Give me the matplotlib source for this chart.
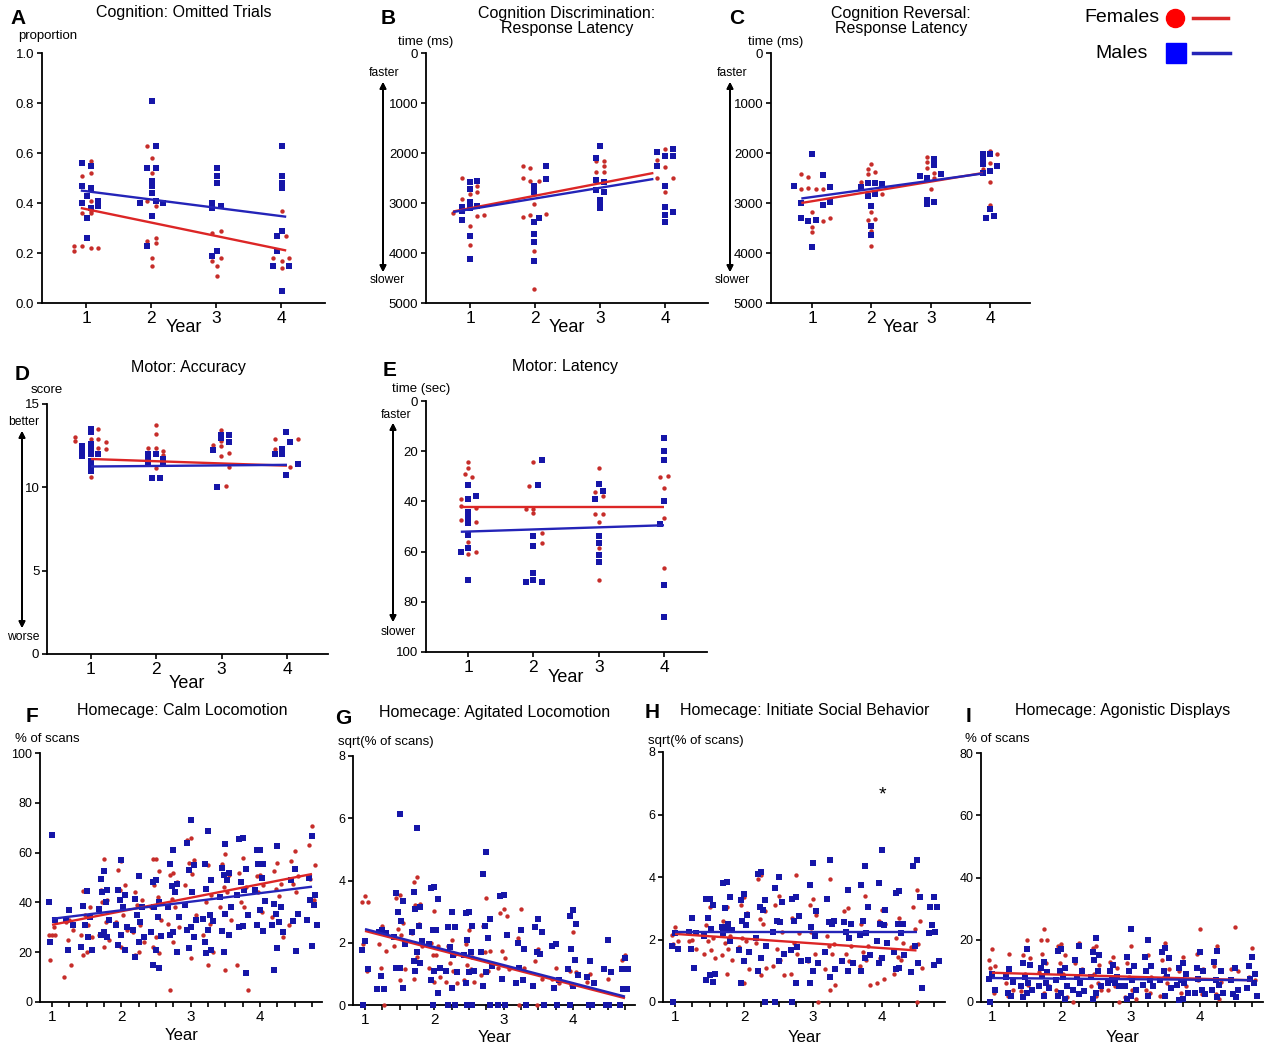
import matplotlib
matplotlib.use('Agg')
import matplotlib.pyplot as plt
from matplotlib.lines import Line2D

plt.rcParams['font.family'] = ['Liberation Sans', 'DejaVu Sans']

W, H = 1272, 1048

RED_PT = '#c62d2a'
BLUE_PT = '#1616a8'
RED_LN = '#dc2626'
BLUE_LN = '#2424b8'

# ---------------- data ----------------
# A: omitted trials (proportion)
a_f_x = [0.82, 0.82, 0.94, 0.94, 0.94, 1.07, 1.07, 1.07, 1.07, 1.07, 1.18, 1.07,
         1.94, 2.01, 2.01, 1.94, 2.07, 1.94, 2.07, 2.07, 2.01, 2.01,
         2.94, 3.07, 2.94, 3.07, 3.01, 3.01,
         4.01, 4.07, 3.88, 4.13, 4.01, 4.01]
a_f_y = [0.23, 0.21, 0.51, 0.36, 0.23, 0.57, 0.52, 0.41, 0.36, 0.22, 0.22, 0.37,
         0.63, 0.58, 0.52, 0.41, 0.39, 0.25, 0.26, 0.24, 0.18, 0.15,
         0.28, 0.29, 0.17, 0.18, 0.15, 0.11,
         0.37, 0.27, 0.18, 0.18, 0.17, 0.14]
a_m_x = [0.94, 0.94, 0.94, 1.01, 1.01, 1.01, 1.07, 1.07, 1.07, 1.18, 1.18,
         2.01, 1.94, 2.01, 2.01, 2.01, 2.01, 2.07, 2.07, 1.94, 1.83, 2.18, 2.07,
         3.01, 3.01, 3.01, 2.94, 2.94, 3.07, 3.01, 2.94,
         4.01, 4.01, 4.01, 4.01, 4.01, 3.94, 3.94, 3.88, 4.13, 4.01]
a_m_y = [0.56, 0.47, 0.40, 0.43, 0.34, 0.26, 0.55, 0.46, 0.38, 0.41, 0.39,
         0.81, 0.54, 0.49, 0.47, 0.44, 0.35, 0.63, 0.54, 0.23, 0.40, 0.40, 0.41,
         0.54, 0.51, 0.48, 0.40, 0.38, 0.39, 0.21, 0.19,
         0.63, 0.51, 0.48, 0.46, 0.29, 0.27, 0.21, 0.15, 0.15, 0.05]
a_fit_x = [0.92, 4.08]
a_fit_f = [0.38, 0.21]
a_fit_m = [0.45, 0.345]

# B: discrimination response latency (ms)
b_f_x = [0.87, 0.87, 1.0, 1.0, 1.0, 1.1, 1.1, 1.1, 1.22, 0.74,
         1.81, 1.92, 1.81, 1.92, 2.06, 1.985, 1.81, 1.92, 2.17, 1.985, 1.985,
         2.94, 3.06, 2.94, 3.06, 3.06, 3.0, 3.0,
         3.87, 3.87, 4.0, 4.0, 4.0, 4.12]
b_f_y = [2490, 2920, 2810, 3460, 3830, 2660, 2780, 3260, 3240, 3190,
         2250, 2290, 2500, 2550, 2550, 3020, 3270, 3230, 3210, 3950, 4720,
         2150, 2150, 2370, 2370, 2250, 2920, 2990,
         2130, 2490, 1920, 2270, 2780, 2500]
b_m_x = [1.0, 1.0, 1.0, 1.0, 1.0, 1.0, 0.87, 0.87, 0.87, 1.1, 1.1,
         1.985, 1.985, 1.985, 1.985, 1.985, 1.985, 2.06, 2.17, 2.17,
         3.0, 2.94, 2.94, 2.94, 3.0, 3.0, 3.0, 3.06, 3.06,
         3.87, 3.87, 4.0, 4.12, 4.12, 4.0, 4.0, 4.0, 4.0, 4.12]
b_m_y = [2570, 2720, 2970, 3100, 3650, 4120, 3070, 3150, 3330, 2550, 3050,
         2650, 2770, 3370, 3620, 3780, 4150, 3290, 2250, 2520,
         1850, 2100, 2530, 2730, 2930, 3020, 3100, 2570, 2770,
         1980, 2250, 2050, 1910, 2050, 2650, 3070, 3230, 3370, 3180]
b_fit_x = [0.74, 3.82]
b_fit_f = [3170, 2400]
b_fit_m = [3180, 2520]

# C: reversal response latency (ms)
c_f_x = [0.82, 0.82, 0.94, 0.94, 1.0, 1.0, 1.0, 1.07, 1.18, 1.18, 1.31,
         1.83, 1.94, 1.94, 2.0, 2.06, 1.94, 2.06, 2.0, 2.0, 2.0, 2.18,
         2.94, 2.94, 2.94, 3.06, 3.06, 3.0,
         4.0, 4.12, 4.0, 3.88, 4.0, 4.0]
c_f_y = [2410, 2710, 2470, 2700, 3170, 3470, 3580, 2710, 2710, 3350, 3290,
         2570, 2320, 2410, 2220, 2370, 3330, 3310, 3180, 3550, 3850, 2820,
         2070, 2180, 2290, 2400, 2500, 2710,
         1950, 2010, 2190, 2310, 2570, 3030]
c_m_x = [0.69, 0.82, 0.82, 0.94, 1.0, 1.0, 1.07, 1.18, 1.18, 1.31, 1.31,
         1.83, 1.94, 1.94, 2.06, 2.06, 2.18, 2.0, 2.0, 2.0,
         2.82, 2.94, 3.06, 3.06, 3.18, 2.94, 2.94, 3.06,
         3.88, 3.88, 3.88, 3.88, 4.0, 4.0, 4.12, 4.0, 3.94, 4.06]
c_m_y = [2650, 3000, 3300, 3350, 2010, 3870, 3330, 2430, 3030, 2670, 2970,
         2670, 2600, 2850, 2590, 2820, 2620, 3050, 3450, 3630,
         2450, 2490, 2120, 2230, 2420, 2930, 3020, 2980,
         2010, 2120, 2220, 2390, 2010, 2350, 2250, 3110, 3290, 3250]
c_fit_x = [0.82, 3.88]
c_fit_f = [3000, 2400]
c_fit_m = [2910, 2410]

# D: motor accuracy (score)
d_f_x = [0.76, 0.76, 1.0, 1.0, 1.0, 1.11, 1.11, 1.11, 1.23, 1.23,
         2.0, 2.0, 2.0, 1.87, 2.11, 2.11, 2.0,
         2.87, 2.99, 2.99, 2.99, 2.99, 3.11, 3.11, 3.06,
         3.81, 3.81, 4.17, 4.05]
d_f_y = [13.0, 12.75, 12.9, 12.6, 10.6, 13.5, 12.9, 12.35, 12.7, 12.3,
         13.75, 13.2, 12.35, 12.35, 12.2, 11.95, 11.15,
         12.55, 13.45, 12.75, 12.45, 11.9, 12.05, 11.2, 10.1,
         12.9, 12.3, 12.9, 11.2]
d_m_x = [0.87, 0.87, 0.87, 0.87, 0.87, 1.0, 1.0, 1.0, 1.0, 1.0, 1.0, 1.0, 1.0, 1.0, 1.11,
         2.0, 1.87, 1.87, 1.87, 2.11, 2.11, 1.94, 2.05,
         2.87, 2.99, 2.99, 3.11, 3.11, 2.93,
         3.81, 3.92, 3.92, 3.99, 4.05, 3.99, 4.17]
d_m_y = [11.9, 12.05, 12.2, 12.35, 12.5, 13.5, 13.3, 12.6, 12.4, 12.2, 12.0, 11.6, 11.2, 11.0, 12.0,
         12.0, 12.0, 11.7, 11.4, 11.7, 11.4, 10.55, 10.55,
         12.25, 13.15, 12.95, 13.15, 12.7, 10.0,
         12.0, 12.3, 12.0, 13.3, 12.7, 10.75, 11.4]
d_fit_x = [1.0, 4.0]
d_fit_f = [11.7, 11.3]
d_fit_m = [11.25, 11.35]

# E: motor latency (sec)
e_f_x = [0.89, 0.89, 0.89, 0.95, 1.0, 1.0, 1.06, 1.0, 1.0, 1.12, 1.12, 1.12,
         2.0, 1.94, 1.88, 2.0, 2.0, 2.13, 2.13,
         3.0, 2.94, 3.06, 2.94, 3.06, 3.0, 3.0, 3.0,
         3.94, 4.06, 4.0, 4.0, 4.0]
e_f_y = [39.1, 41.9, 47.5, 28.9, 24.5, 26.6, 30.2, 56.1, 60.8, 42.8, 48.4, 60.1,
         24.2, 33.8, 43.1, 43.1, 44.8, 52.4, 56.4,
         26.6, 36.4, 37.8, 45.1, 45.1, 48.4, 58.5, 71.4,
         30.2, 29.8, 34.8, 46.8, 66.5]
e_m_x = [0.89, 1.0, 1.0, 1.0, 1.0, 1.0, 1.0, 1.0, 1.0, 1.12,
         2.07, 2.13, 2.0, 2.0, 2.0, 2.0, 1.88, 2.13,
         3.0, 3.06, 2.94, 3.0, 3.0, 3.0, 3.0,
         4.0, 4.0, 4.0, 4.0, 3.94, 4.0, 4.0]
e_m_y = [60.1, 33.5, 39.1, 44.1, 46.1, 48.8, 53.2, 58.5, 71.4, 37.9,
         33.5, 23.5, 53.9, 57.8, 68.5, 71.4, 72.1, 72.1,
         33.1, 35.9, 39.1, 53.9, 56.5, 61.2, 64.1,
         14.6, 19.8, 23.5, 39.8, 49.1, 73.4, 86.0]
e_fit_x = [0.89, 4.0]
e_fit_f = [42.2, 42.2]
e_fit_m = [52.1, 49.5]

# homecage panels: one list of values per observation period
hc_years = [1.0, 1.25, 1.5, 1.75, 2.0, 2.25, 2.5, 2.75,
            3.0, 3.25, 3.5, 3.75, 4.0, 4.25, 4.5, 4.75]

f_f = [[27, 27, 27, 17, 30], [33, 32, 29, 25, 15, 10],
       [44.5, 44.5, 38, 35, 31, 27, 26, 20, 19], [57.5, 45, 41, 40, 32, 27, 25, 22],
       [56.5, 53, 47, 45, 35, 32, 29, 22], [51, 44, 41, 39, 31, 28, 24, 20, 19],
       [57.5, 57.5, 52.5, 47, 42, 38, 33, 26, 22, 19.5], [52, 51, 48, 41.5, 38, 31.5, 30, 24, 5],
       [66, 65, 57, 56, 51.5, 47, 35, 17.5], [55, 45.5, 43, 40, 31.5, 27, 20, 15],
       [59.5, 55.5, 51, 46, 44, 38, 33, 13], [58, 52, 46, 40, 38, 15, 5],
       [51, 50.5, 47, 44, 36], [56, 52.5, 47.5, 45.5, 42.5, 34, 26],
       [60.5, 56.5, 50.5, 47.5, 44, 31], [70.5, 63, 55, 49.5, 41, 33.5]]
f_m = [[67, 40, 33, 24], [37, 33, 31, 21],
       [44.5, 38.5, 34, 31, 26, 22, 21], [52.5, 49.5, 45, 44, 40, 37.5, 33, 28, 27, 26],
       [57, 45, 43, 41, 38, 31, 30, 27, 23, 21], [50.5, 41.5, 38, 35, 32, 29, 26, 24, 18],
       [49, 48, 40, 38, 34, 28, 26.5, 21, 15, 13.5], [61, 55.5, 47.5, 46.5, 44, 38, 34, 28, 27, 20],
       [73, 64, 55, 53, 44, 39, 33, 30, 29, 26, 21.5],
       [68.5, 55.5, 49, 45.5, 35, 33.5, 32.5, 29, 24, 21, 19.5],
       [63.5, 54, 52, 51, 49, 42, 38, 35.5, 28.5, 27, 20],
       [66, 65.5, 53.5, 48, 45, 43, 35, 30.5, 30, 11.5],
       [61, 61, 55.5, 55.5, 50, 45, 40.5, 37, 31, 28.5],
       [62.5, 39.5, 38, 35.5, 32, 31, 28, 21.5, 13],
       [53.5, 49, 35.5, 32.5, 20.5], [66.5, 50, 43, 41, 39, 33, 31, 22.5]]
f_fit_x = [1.0, 4.75]
f_fit_f = [31.0, 51.4]
f_fit_m = [33.4, 46.3]

g_f = [[3.5, 3.3, 3.3, 1.97, 1.1], [2.55, 1.97, 1.75, 1.2, 0],
       [3.55, 3.45, 2.65, 2.45, 2.25, 1.9, 1.15, 0.8], [4.1, 3.95, 3.25, 3.2, 2.6, 2.3, 1.9, 1.55, 0.85],
       [3.02, 2.0, 1.9, 1.6, 1.6, 1.2, 0.9, 0.75], [2.1, 1.9, 1.65, 1.35, 1.1, 0.75, 0.7],
       [2.4, 1.95, 1.55, 1.3, 1.15, 0.8, 0.75], [3.45, 2.55, 1.75, 1.7, 1.1, 0.95],
       [3.1, 2.95, 2.85, 1.75, 1.5, 1.2, 1.15], [3.1, 2.15, 1.2, 0],
       [1.8, 1.4, 0.85, 0], [1.2, 0.85, 0.7],
       [2.35, 1.1, 1.05, 0.65], [1.0, 0.75],
       [0.85], [1.6, 1.45, 1.2, 1.2]]
g_m = [[2.05, 1.78, 1.15, 0], [2.4, 2.35, 2.3, 0.93, 0.5, 0.5],
       [6.15, 3.6, 3.35, 3.0, 2.7, 2.2, 1.95, 1.2, 1.2, 0.55],
       [5.7, 3.63, 3.15, 3.1, 2.55, 2.35, 2.05, 1.7, 1.4, 1.35, 1.1],
       [3.8, 3.75, 3.4, 2.4, 2.4, 1.95, 1.2, 1.1, 0.8, 0.4, 0],
       [3.0, 2.5, 2.5, 1.85, 1.6, 1.1, 1.05, 0.55, 0, 0],
       [3.0, 2.95, 2.55, 2.1, 1.7, 1.6, 1.1, 1.05, 0.7, 0, 0],
       [4.9, 4.2, 2.75, 2.55, 2.15, 1.7, 1.25, 1.05, 0.6, 0],
       [3.55, 3.5, 2.25, 0.85, 0, 0], [2.4, 2.0, 1.8, 1.2, 0.8, 0.7, 0],
       [2.75, 2.5, 2.35, 1.7, 1.65, 0.6, 0], [1.95, 1.9, 0.8, 0.55, 0],
       [3.05, 2.85, 2.6, 1.8, 1.45, 1.15, 0.95, 0.6, 0], [1.4, 0.9, 0.7, 0, 0],
       [2.1, 1.15, 1.05, 0, 0], [1.5, 1.15, 1.15, 0.5, 0.5, 0]]
g_fit_x = [1.0, 4.75]
g_fit_f = [2.38, 0.22]
g_fit_m = [2.44, 0.27]

h_f = [[2.4, 2.15, 1.95, 1.85, 1.7], [2.0, 1.95, 1.7],
       [3.05, 2.45, 2.05, 1.95, 1.65, 1.55, 1.4, 0.9], [3.05, 2.6, 2.1, 1.9, 1.7, 1.5, 1.35, 0.9],
       [3.35, 3.1, 2.85, 2.05, 1.95, 1.75, 1.05, 0.6], [4.05, 3.95, 2.9, 2.65, 2.5, 1.9, 1.1, 0.85],
       [3.4, 3.1, 2.25, 1.7, 1.35, 1.15, 0.85], [4.05, 2.7, 2.2, 1.9, 1.55, 0.9],
       [3.3, 3.1, 2.8, 2.25, 1.55, 1.3, 0], [3.95, 2.1, 1.85, 1.8, 1.55, 1.05, 0.55, 0.4],
       [3.0, 2.9, 1.8, 1.55, 1.3], [3.4, 2.5, 1.8, 1.6, 1.35, 1.15, 0.55],
       [2.95, 2.6, 2.5, 1.4, 0.75, 0.6], [2.7, 2.05, 1.9, 1.45, 1.35, 0.9],
       [3.6, 3.05, 2.6, 2.35, 1.85, 1.75, 1.1, 0], []]
h_m = [[2.2, 1.8, 1.7, 0], [2.7, 2.25, 2.2, 1.7, 1.1],
       [3.3, 3.3, 3.1, 2.7, 2.35, 2.1, 0.9, 0.85, 0.7, 0.65],
       [3.85, 3.8, 3.35, 3.0, 2.5, 2.4, 2.3, 2.3, 2.2, 1.95],
       [3.45, 3.25, 2.8, 2.6, 2.45, 1.65, 1.6, 1.3, 0.6],
       [4.15, 4.1, 3.25, 3.05, 2.95, 2.05, 1.8, 1.4, 1.0, 0],
       [4.0, 3.65, 3.2, 2.6, 2.55, 2.25, 1.55, 1.3, 0],
       [3.35, 3.3, 2.75, 2.6, 1.75, 1.65, 1.3, 0.6, 0],
       [4.45, 3.75, 2.9, 2.4, 2.1, 1.35, 1.25, 1.0, 0.6],
       [4.55, 3.3, 2.6, 2.55, 2.5, 1.6, 1.05, 0.8],
       [3.6, 2.55, 2.5, 2.25, 2.05, 1.3, 1.25, 1.0],
       [4.35, 3.75, 3.05, 2.6, 2.2, 2.15, 1.5, 1.4, 1.0],
       [4.85, 3.8, 2.95, 2.5, 2.45, 1.95, 1.9, 1.4, 1.25],
       [3.55, 3.5, 2.5, 2.5, 2.2, 1.6, 1.5, 1.1, 1.05],
       [4.55, 4.35, 3.35, 1.8, 1.25, 0.95, 0.45],
       [3.35, 3.05, 3.05, 2.45, 2.25, 2.2, 1.3, 1.2]]
h_fit_x = [1.0, 4.5]
h_fit_f = [2.18, 1.65]
h_fit_m = [2.24, 2.24]

i_f = [[17, 13.5, 11.5, 11, 3], [15.5, 6, 4, 2], [20, 15, 14, 9, 5.5, 3.5],
       [23.5, 20, 20, 15.5, 12.5, 9.5, 5, 3], [18.5, 18, 15, 12.5, 9, 4, 1.5],
       [19, 12.5, 10.5, 8.5, 6, 0], [18, 17.5, 12, 9, 6, 5, 4, 2],
       [14.5, 13, 11, 8, 5, 4, 0], [18, 12.5, 11.5, 8, 4, 1.5, 1],
       [15, 10, 8, 4, 3], [19, 13.5, 10.5, 8, 6, 2], [14.5, 10, 5, 3],
       [23.5, 15.5, 10.5, 7, 2.5], [18, 11.5, 6.5, 2.5, 1], [24, 10.5, 10, 2.5], [17.5, 8, 7]]
i_m = [[9, 7.5, 4, 0], [10.5, 8, 6.5, 3, 2], [17, 12.5, 12, 8, 6, 5, 4, 3, 1.5],
       [13, 11, 9.5, 8.5, 6, 5, 4.5, 2], [17, 16.5, 11, 10, 8, 7, 5, 3, 2, 1],
       [18, 13.5, 10, 8, 6, 4, 3.5, 2.5], [20.5, 16, 15, 13.5, 10, 8, 5, 3, 1],
       [12, 10, 8, 7, 6, 6, 5], [23.5, 14.5, 11.5, 10, 7, 5, 4, 2, 1],
       [20, 14.5, 11.5, 10, 7, 5.5, 5, 2], [17.5, 16, 14, 10, 8, 7, 4.5, 2],
       [12.5, 11, 9, 7, 6, 5.5, 3, 1, 0.5], [16, 11, 10, 7.5, 4, 3, 2.5],
       [16.5, 13, 10, 7, 5.5, 4, 3, 1.5], [11, 7, 4, 2.5, 1.5], [14.5, 11.5, 9, 7.5, 6, 4.5, 2]]
i_fit_x = [1.0, 4.75]
i_fit_f = [9.4, 7.0]
i_fit_m = [7.7, 7.0]

# ---------------- helpers ----------------
fig = plt.figure(figsize=(W / 100, H / 100), dpi=100)


def px_axes(l, t, r, b):
    ax = fig.add_axes([l / W, 1 - b / H, (r - l) / W, (b - t) / H])
    for s in ['top', 'right']:
        ax.spines[s].set_visible(False)
    for s in ['left', 'bottom']:
        ax.spines[s].set_linewidth(1.3)
    ax.tick_params(direction='out', length=3.5, width=1.2, pad=2)
    return ax


def ftext(x, y, s, **kw):
    kw.setdefault('ha', 'center')
    kw.setdefault('va', 'center')
    fig.text(x / W, 1 - y / H, s, **kw)


def updown_arrow(x, y_top, y_bot):
    fig.add_artist(plt.annotate('', xy=(x, H - y_top), xytext=(x, H - y_bot),
                                xycoords='figure pixels', textcoords='figure pixels',
                                arrowprops=dict(arrowstyle='<|-|>', lw=1.3, color='black',
                                                mutation_scale=9, shrinkA=0, shrinkB=0)))


def draw_points(ax, xf, yf, xm, ym):
    ax.scatter(xf, yf, s=10, c=RED_PT, marker='o', linewidths=0, zorder=3, clip_on=False)
    ax.scatter(xm, ym, s=13, c=BLUE_PT, marker='s', linewidths=0, zorder=3, clip_on=False)


def draw_fits(ax, fx, ff, fm):
    ax.plot(fx, ff, color=RED_LN, lw=1.7, zorder=4, solid_capstyle='butt')
    ax.plot(fx, fm, color=BLUE_LN, lw=1.7, zorder=4, solid_capstyle='butt')


spread = [0.0, -0.05, 0.05, -0.025, 0.025, -0.075, 0.075]


def flatten(groups):
    xs, ys = [], []
    for yr, vals in zip(hc_years, groups):
        for k, v in enumerate(vals):
            xs.append(yr + spread[k % len(spread)])
            ys.append(v)
    return xs, ys


def top_panel(box, xlim, ylim, yticks, ylabels):
    ax = px_axes(*box)
    ax.set_xlim(*xlim)
    ax.set_ylim(*ylim)
    ax.set_xticks([1, 2, 3, 4])
    ax.set_xticklabels(['1', '2', '3', '4'], fontsize=12.5)
    ax.set_yticks(yticks)
    ax.set_yticklabels(ylabels, fontsize=9.5)
    return ax


def hc_panel(box, xlim, ymax, ystep):
    ax = px_axes(*box)
    ax.set_xlim(*xlim)
    ax.set_ylim(0, ymax)
    ax.set_xticks(hc_years)
    ax.set_xticklabels([str(int(v)) if v == int(v) else '' for v in hc_years], fontsize=11)
    yt = list(range(0, ymax + 1, ystep))
    ax.set_yticks(yt)
    ax.set_yticklabels([str(v) for v in yt], fontsize=9)
    return ax


# ---------------- row 1 ----------------
ax = top_panel((42, 53, 325, 303), (0.323, 4.677), (0, 1.0),
               [0, 0.2, 0.4, 0.6, 0.8, 1.0], ['0.0', '0.2', '0.4', '0.6', '0.8', '1.0'])
draw_points(ax, a_f_x, a_f_y, a_m_x, a_m_y)
draw_fits(ax, a_fit_x, a_fit_f, a_fit_m)

ax = top_panel((426, 53, 708, 303), (0.323, 4.66), (5000, 0),
               [0, 1000, 2000, 3000, 4000, 5000], ['0', '1000', '2000', '3000', '4000', '5000'])
draw_points(ax, b_f_x, b_f_y, b_m_x, b_m_y)
draw_fits(ax, b_fit_x, b_fit_f, b_fit_m)

ax = top_panel((771, 53, 1030, 303), (0.309, 4.674), (5000, 0),
               [0, 1000, 2000, 3000, 4000, 5000], ['0', '1000', '2000', '3000', '4000', '5000'])
draw_points(ax, c_f_x, c_f_y, c_m_x, c_m_y)
draw_fits(ax, c_fit_x, c_fit_f, c_fit_m)

# ---------------- row 2 ----------------
ax = top_panel((47, 404, 328, 654), (0.327, 4.628), (0, 15),
               [0, 5, 10, 15], ['0', '5', '10', '15'])
draw_points(ax, d_f_x, d_f_y, d_m_x, d_m_y)
draw_fits(ax, d_fit_x, d_fit_f, d_fit_m)

ax = top_panel((426, 401, 707, 652), (0.357, 4.658), (100, 0),
               [0, 20, 40, 60, 80, 100], ['0', '20', '40', '60', '80', '100'])
draw_points(ax, e_f_x, e_f_y, e_m_x, e_m_y)
draw_fits(ax, e_fit_x, e_fit_f, e_fit_m)

# ---------------- row 3 ----------------
hc = [((40, 753, 322, 1002), (0.827, 4.894), 100, 20, f_f, f_m, f_fit_x, f_fit_f, f_fit_m),
      ((353, 756, 635, 1005), (0.827, 4.894), 8, 2, g_f, g_m, g_fit_x, g_fit_f, g_fit_m),
      ((663, 752, 945, 1002), (0.826, 4.913), 8, 2, h_f, h_m, h_fit_x, h_fit_f, h_fit_m),
      ((981, 753, 1263, 1002), (0.841, 4.909), 80, 20, i_f, i_m, i_fit_x, i_fit_f, i_fit_m)]
hc_axes = []
for box, xl, ymax, ystep, vf, vm, fx, ff, fm in hc:
    ax = hc_panel(box, xl, ymax, ystep)
    xf, yf = flatten(vf)
    xm, ym = flatten(vm)
    draw_points(ax, xf, yf, xm, ym)
    draw_fits(ax, fx, ff, fm)
    hc_axes.append(ax)
hc_axes[2].text(4.0, 6.62, '*', ha='center', va='center', fontsize=14)

# ---------------- text ----------------
bold = dict(fontsize=15, fontweight='bold')
ftext(18, 18, 'A', **bold)
ftext(388, 18, 'B', **bold)
ftext(737, 18, 'C', **bold)
ftext(22, 375, 'D', **bold)
ftext(390, 370, 'E', **bold)
ftext(32, 716, 'F', **bold)
ftext(343, 718, 'G', **bold)
ftext(652, 713, 'H', **bold)
ftext(968, 716, 'I', **bold)

tfs = 11.5
ftext(184, 12, 'Cognition: Omitted Trials', fontsize=tfs)
ftext(567, 21, 'Cognition Discrimination:\nResponse Latency', fontsize=tfs, linespacing=1.05)
ftext(901, 21, 'Cognition Reversal:\nResponse Latency', fontsize=tfs, linespacing=1.05)
ftext(188, 368, 'Motor: Accuracy', fontsize=tfs)
ftext(565, 367, 'Motor: Latency', fontsize=tfs)
ftext(182, 711, 'Homecage: Calm Locomotion', fontsize=tfs)
ftext(495, 713, 'Homecage: Agitated Locomotion', fontsize=tfs)
ftext(805, 710, 'Homecage: Initiate Social Behavior', fontsize=tfs)
ftext(1123, 710, 'Homecage: Agonistic Displays', fontsize=tfs)

lfs = 9.5
ftext(18, 36, 'proportion', fontsize=lfs, ha='left')
ftext(398, 42, 'time (ms)', fontsize=lfs, ha='left')
ftext(748, 42, 'time (ms)', fontsize=lfs, ha='left')
ftext(31, 390, 'score', fontsize=lfs, ha='left')
ftext(392, 389, 'time (sec)', fontsize=lfs, ha='left')
ftext(15, 739, '% of scans', fontsize=lfs, ha='left')
ftext(338, 742, 'sqrt(% of scans)', fontsize=lfs, ha='left')
ftext(648, 741, 'sqrt(% of scans)', fontsize=lfs, ha='left')
ftext(965, 739, '% of scans', fontsize=lfs, ha='left')

sfs = 8.7
ftext(384, 73, 'faster', fontsize=sfs)
ftext(387, 280, 'slower', fontsize=sfs)
updown_arrow(383, 82, 272)
ftext(732, 73, 'faster', fontsize=sfs)
ftext(732, 280, 'slower', fontsize=sfs)
updown_arrow(730, 82, 272)
ftext(24, 422, 'better', fontsize=sfs)
ftext(23, 637, 'worse', fontsize=sfs)
updown_arrow(22, 431, 628)
ftext(396, 415, 'faster', fontsize=sfs)
ftext(398, 632, 'slower', fontsize=sfs)
updown_arrow(393, 423, 622)

yfs = 13
ftext(184, 328, 'Year', fontsize=yfs)
ftext(567, 327, 'Year', fontsize=yfs)
ftext(901, 328, 'Year', fontsize=yfs)
ftext(187, 684, 'Year', fontsize=yfs)
ftext(566, 678, 'Year', fontsize=yfs)
ftext(182, 1035, 'Year', fontsize=12)
ftext(495, 1037, 'Year', fontsize=12)
ftext(805, 1037, 'Year', fontsize=12)
ftext(1123, 1037, 'Year', fontsize=12)

# legend
ftext(1159, 18, 'Females', fontsize=14, ha='right')
ftext(1148, 53, 'Males', fontsize=14, ha='right')
fig.add_artist(Line2D([1175 / W], [1 - 18 / H], transform=fig.transFigure, marker='o',
                      ms=13, color='#ff0000', mec='#ff0000', ls='none'))
fig.add_artist(Line2D([1176 / W], [1 - 53 / H], transform=fig.transFigure, marker='s',
                      ms=14, color='#0000ff', mec='#0000ff', ls='none'))
fig.add_artist(Line2D([1193 / W, 1228 / W], [1 - 18 / H, 1 - 18 / H], transform=fig.transFigure,
                      color=RED_LN, lw=2.5))
fig.add_artist(Line2D([1193 / W, 1230 / W], [1 - 53 / H, 1 - 53 / H], transform=fig.transFigure,
                      color=BLUE_LN, lw=2.5))

fig.savefig('out.png', dpi=100)
